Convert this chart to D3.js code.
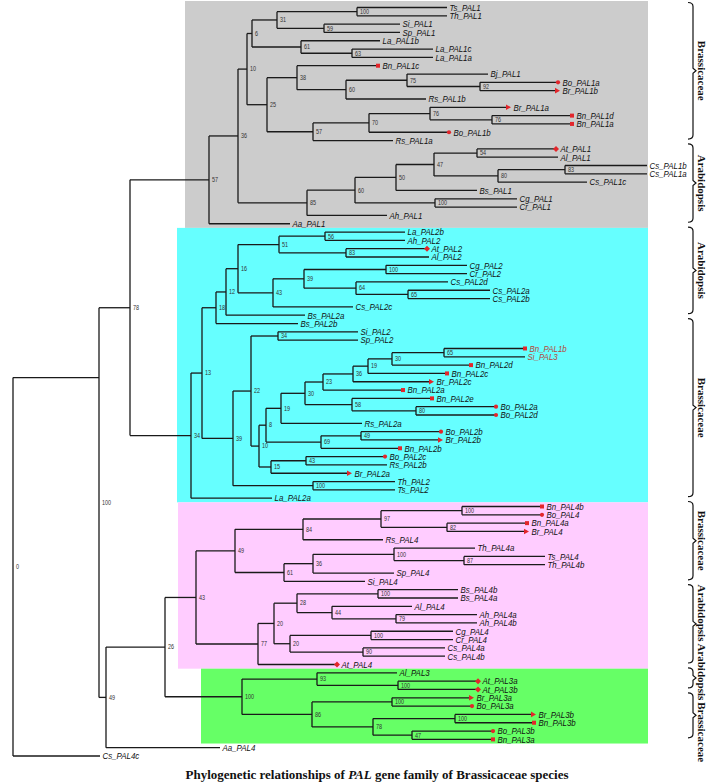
<!DOCTYPE html>
<html><head><meta charset="utf-8">
<script src="https://cdn.jsdelivr.net/npm/d3@7"></script>
<style>body{margin:0;background:#fff}</style>
</head><body>
<svg id="chart" width="708" height="784"></svg>
<script>
// Each row: [id, parent, distance from root, bootstrap support]. Leaves have "" support.
const backboneNodes = [
  ["root", "", 0, "0"],
  ["n100top", "root", 0.086, "100"],
  ["n78top", "n100top", 0.117, "78"],
  ["n49top", "n100top", 0.093, "49"],
  ["n26", "n49top", 0.152, "26"],
  ["Aa_PAL4", "n49top", 0.207, ""],
  ["Cs_PAL4c", "root", 0.087, ""]
];
// nodes whose stem meets the parent at the centre of their leaves (as drawn in the figure)
const centroidJoinNodes = ["n100top"];
const pal1Nodes = [
  ["n57a", "n78top", 0.196, "57"],
  ["n36a", "n57a", 0.225, "36"],
  ["n10a", "n36a", 0.234, "10"],
  ["n6", "n10a", 0.239, "6"],
  ["n31", "n6", 0.264, "31"],
  ["n100a", "n31", 0.344, "100"],
  ["Ts_PAL1", "n100a", 0.434, ""],
  ["Th_PAL1", "n100a", 0.434, ""],
  ["n59", "n31", 0.311, "59"],
  ["Si_PAL1", "n59", 0.387, ""],
  ["Sp_PAL1", "n59", 0.387, ""],
  ["n61a", "n6", 0.288, "61"],
  ["La_PAL1b", "n61a", 0.367, ""],
  ["n63", "n61a", 0.339, "63"],
  ["La_PAL1c", "n63", 0.420, ""],
  ["La_PAL1a", "n63", 0.420, ""],
  ["n25", "n10a", 0.254, "25"],
  ["n38", "n25", 0.284, "38"],
  ["Bn_PAL1c", "n38", 0.365, ""],
  ["n60a", "n38", 0.333, "60"],
  ["n75", "n60a", 0.394, "75"],
  ["Bj_PAL1", "n75", 0.475, ""],
  ["n92", "n75", 0.467, "92"],
  ["Bo_PAL1a", "n92", 0.545, ""],
  ["Br_PAL1b", "n92", 0.545, ""],
  ["Rs_PAL1b", "n60a", 0.413, ""],
  ["n57b", "n25", 0.300, "57"],
  ["n70", "n57b", 0.356, "70"],
  ["n76a", "n70", 0.417, "76"],
  ["Br_PAL1a", "n76a", 0.496, ""],
  ["n76b", "n76a", 0.479, "76"],
  ["Bn_PAL1d", "n76b", 0.559, ""],
  ["Bn_PAL1a", "n76b", 0.559, ""],
  ["Bo_PAL1b", "n70", 0.436, ""],
  ["Rs_PAL1a", "n57b", 0.380, ""],
  ["n85", "n36a", 0.294, "85"],
  ["n60b", "n85", 0.342, "60"],
  ["n50", "n60b", 0.383, "50"],
  ["n47a", "n50", 0.421, "47"],
  ["n54", "n47a", 0.464, "54"],
  ["At_PAL1", "n54", 0.543, ""],
  ["Al_PAL1", "n54", 0.545, ""],
  ["n80a", "n47a", 0.485, "80"],
  ["n83a", "n80a", 0.552, "83"],
  ["Cs_PAL1b", "n83a", 0.634, ""],
  ["Cs_PAL1a", "n83a", 0.634, ""],
  ["Cs_PAL1c", "n80a", 0.574, ""],
  ["Bs_PAL1", "n50", 0.464, ""],
  ["n100b", "n60b", 0.422, "100"],
  ["Cg_PAL1", "n100b", 0.504, ""],
  ["Cr_PAL1", "n100b", 0.504, ""],
  ["Ah_PAL1", "n85", 0.374, ""],
  ["Aa_PAL1", "n57a", 0.277, ""]
];
const pal2Nodes = [
  ["n34a", "n78top", 0.178, "34"],
  ["n13", "n34a", 0.189, "13"],
  ["n18", "n13", 0.203, "18"],
  ["n12", "n18", 0.213, "12"],
  ["n16", "n12", 0.225, "16"],
  ["n51", "n16", 0.266, "51"],
  ["n56", "n51", 0.312, "56"],
  ["La_PAL2b", "n56", 0.392, ""],
  ["Ah_PAL2", "n56", 0.392, ""],
  ["n83b", "n51", 0.333, "83"],
  ["At_PAL2", "n83b", 0.414, ""],
  ["Al_PAL2", "n83b", 0.416, ""],
  ["n43a", "n16", 0.260, "43"],
  ["n39a", "n43a", 0.291, "39"],
  ["n100c", "n39a", 0.373, "100"],
  ["Cg_PAL2", "n100c", 0.454, ""],
  ["Cr_PAL2", "n100c", 0.454, ""],
  ["n64", "n39a", 0.343, "64"],
  ["Cs_PAL2d", "n64", 0.435, ""],
  ["n65a", "n64", 0.395, "65"],
  ["Cs_PAL2a", "n65a", 0.477, ""],
  ["Cs_PAL2b", "n65a", 0.477, ""],
  ["Cs_PAL2c", "n43a", 0.340, ""],
  ["Bs_PAL2a", "n12", 0.292, ""],
  ["Bs_PAL2b", "n18", 0.285, ""],
  ["n39b", "n13", 0.220, "39"],
  ["n22", "n39b", 0.238, "22"],
  ["n34b", "n22", 0.265, "34"],
  ["Si_PAL2", "n34b", 0.345, ""],
  ["Sp_PAL2", "n34b", 0.345, ""],
  ["n10b", "n22", 0.246, "10"],
  ["n8", "n10b", 0.253, "8"],
  ["n19b", "n8", 0.268, "19"],
  ["n30b", "n19b", 0.292, "30"],
  ["n23", "n30b", 0.310, "23"],
  ["n36b", "n23", 0.340, "36"],
  ["n19a", "n36b", 0.355, "19"],
  ["n30a", "n19a", 0.379, "30"],
  ["n65b", "n30a", 0.431, "65"],
  ["Bn_PAL1b", "n65b", 0.512, ""],
  ["Si_PAL3", "n65b", 0.512, ""],
  ["Bn_PAL2d", "n30a", 0.458, ""],
  ["Bn_PAL2c", "n19a", 0.434, ""],
  ["Br_PAL2c", "n36b", 0.419, ""],
  ["Bn_PAL2a", "n23", 0.390, ""],
  ["n58", "n30b", 0.339, "58"],
  ["Bn_PAL2e", "n58", 0.419, ""],
  ["n80b", "n58", 0.403, "80"],
  ["Bo_PAL2a", "n80b", 0.483, ""],
  ["Bo_PAL2d", "n80b", 0.483, ""],
  ["Rs_PAL2a", "n19b", 0.349, ""],
  ["n69", "n8", 0.308, "69"],
  ["n49b", "n69", 0.348, "49"],
  ["Bo_PAL2b", "n49b", 0.428, ""],
  ["Br_PAL2b", "n49b", 0.428, ""],
  ["Bn_PAL2b", "n69", 0.387, ""],
  ["n15", "n10b", 0.258, "15"],
  ["n43b", "n15", 0.293, "43"],
  ["Bo_PAL2c", "n43b", 0.372, ""],
  ["Rs_PAL2b", "n43b", 0.374, ""],
  ["Br_PAL2a", "n15", 0.337, ""],
  ["n100d", "n39b", 0.300, "100"],
  ["Th_PAL2", "n100d", 0.382, ""],
  ["Ts_PAL2", "n100d", 0.382, ""],
  ["La_PAL2a", "n34a", 0.259, ""]
];
const pal4Nodes = [
  ["n43c", "n26", 0.183, "43"],
  ["n49c", "n43c", 0.222, "49"],
  ["n84", "n49c", 0.290, "84"],
  ["n97", "n84", 0.368, "97"],
  ["n100e", "n97", 0.449, "100"],
  ["Bn_PAL4b", "n100e", 0.529, ""],
  ["Bo_PAL4", "n100e", 0.529, ""],
  ["n82", "n97", 0.434, "82"],
  ["Bn_PAL4a", "n82", 0.514, ""],
  ["Br_PAL4", "n82", 0.514, ""],
  ["Rs_PAL4", "n84", 0.370, ""],
  ["n61b", "n49c", 0.271, "61"],
  ["n36c", "n61b", 0.300, "36"],
  ["n100f", "n36c", 0.381, "100"],
  ["Th_PAL4a", "n100f", 0.462, ""],
  ["n87", "n100f", 0.451, "87"],
  ["Ts_PAL4", "n87", 0.532, ""],
  ["Th_PAL4b", "n87", 0.532, ""],
  ["Sp_PAL4", "n36c", 0.381, ""],
  ["Si_PAL4", "n61b", 0.352, ""],
  ["n77", "n43c", 0.245, "77"],
  ["n20a", "n77", 0.261, "20"],
  ["n28", "n20a", 0.284, "28"],
  ["n100g", "n28", 0.365, "100"],
  ["Bs_PAL4b", "n100g", 0.445, ""],
  ["Bs_PAL4a", "n100g", 0.445, ""],
  ["n44", "n28", 0.319, "44"],
  ["Al_PAL4", "n44", 0.399, ""],
  ["n79", "n44", 0.383, "79"],
  ["Ah_PAL4a", "n79", 0.464, ""],
  ["Ah_PAL4b", "n79", 0.464, ""],
  ["n20b", "n20a", 0.277, "20"],
  ["n100h", "n20b", 0.358, "100"],
  ["Cg_PAL4", "n100h", 0.440, ""],
  ["Cr_PAL4", "n100h", 0.440, ""],
  ["n90", "n20b", 0.350, "90"],
  ["Cs_PAL4a", "n90", 0.432, ""],
  ["Cs_PAL4b", "n90", 0.432, ""],
  ["At_PAL4", "n77", 0.324, ""]
];
const pal3Nodes = [
  ["n100i", "n26", 0.229, "100"],
  ["n93", "n100i", 0.304, "93"],
  ["Al_PAL3", "n93", 0.384, ""],
  ["n100j", "n93", 0.385, "100"],
  ["At_PAL3a", "n100j", 0.465, ""],
  ["At_PAL3b", "n100j", 0.465, ""],
  ["n86", "n100i", 0.299, "86"],
  ["n100k", "n86", 0.379, "100"],
  ["Br_PAL3a", "n100k", 0.459, ""],
  ["Bo_PAL3a", "n100k", 0.459, ""],
  ["n78b", "n86", 0.360, "78"],
  ["n100l", "n78b", 0.442, "100"],
  ["Br_PAL3b", "n100l", 0.521, ""],
  ["Bn_PAL3b", "n100l", 0.521, ""],
  ["n47b", "n78b", 0.399, "47"],
  ["Bo_PAL3b", "n47b", 0.480, ""],
  ["Bn_PAL3a", "n47b", 0.480, ""]
];
// shaded clades: [colour, first leaf, last leaf, left edge distance]
const cladeBoxes = [
  ["#cccccc", "Ts_PAL1", "Aa_PAL1", 0.172],
  ["#66ffff", "La_PAL2b", "La_PAL2a", 0.164],
  ["#ffccff", "Bn_PAL4b", "At_PAL4", 0.165],
  ["#66ff66", "Al_PAL3", "Bn_PAL3a", 0.188]
];
// family brackets: [label, first leaf, last leaf]
const groupBraces = [
  ["Brassicaceae", "Ts_PAL1", "Rs_PAL1a"],
  ["Arabidopsis", "At_PAL1", "Aa_PAL1"],
  ["Arabidopsis", "La_PAL2b", "Bs_PAL2a"],
  ["Brassicaceae", "Bs_PAL2b", "La_PAL2a"],
  ["Brassicaceae", "Bn_PAL4b", "Si_PAL4"],
  ["Arabidopsis", "Bs_PAL4b", "At_PAL4"],
  ["Arabidopsis", "Al_PAL3", "At_PAL3b"],
  ["Brassicaceae", "Br_PAL3a", "Bn_PAL3a"]
];
const markedSpecies = {At: "diamond", Br: "arrow", Bn: "square", Bo: "circle"};
const highlightedLeaves = ["Bn_PAL1b", "Si_PAL3"];
const titleParts = ["Phylogenetic relationships of ", "PAL", " gene family of Brassicaceae species"];

const svg = d3.select("#chart");
const rows = [...backboneNodes, ...pal1Nodes, ...pal2Nodes, ...pal4Nodes, ...pal3Nodes]
  .map(r => ({id: r[0], parent: r[1] || null, dist: r[2], support: r[3]}));
const root = d3.stratify().id(d => d.id).parentId(d => d.parent)(rows);
const leaves = root.leaves();
const yScale = d3.scaleLinear().domain([0, leaves.length - 1]).range([7.5, 756]);
const xScale = d3.scaleLinear().domain([0, 0.634]).range([13, 647]);
const leafIndex = new Map(leaves.map((l, i) => [l.id, i]));
leaves.forEach((l, i) => { l.py = yScale(i); l.jy = l.py; });
root.eachAfter(n => {
  if (!n.children) return;
  const c = n.children;
  n.py = (c[0].jy + c[c.length - 1].jy) / 2;
  n.jy = centroidJoinNodes.includes(n.id) ? d3.mean(n.leaves(), l => l.py) : n.py;
});
root.each(n => n.px = xScale(n.data.dist));

// clade boxes
const rightEdge = xScale.range()[1] + 1;
const boundary = i => i <= 0 ? yScale(0) - 6.5 : (yScale(i - 1) + yScale(i)) / 2;
svg.append("g").selectAll("rect").data(cladeBoxes).join("rect")
  .attr("x", d => xScale(d[3]))
  .attr("y", d => boundary(leafIndex.get(d[1])))
  .attr("width", d => rightEdge - xScale(d[3]))
  .attr("height", d => boundary(leafIndex.get(d[2]) + 1) - boundary(leafIndex.get(d[1])))
  .attr("fill", d => d[0]);

// branches
const lineG = svg.append("g").attr("stroke", "#1a1a1a").attr("stroke-width", 1.3).attr("fill", "none");
root.descendants().filter(n => n.children).forEach(n => {
  const c = n.children;
  const ys = c.map(ch => ch.jy).concat([n.jy]);
  lineG.append("line").attr("x1", n.px).attr("x2", n.px)
    .attr("y1", d3.min(ys)).attr("y2", d3.max(ys));
  c.forEach(ch => lineG.append("line").attr("x1", n.px).attr("x2", ch.px)
    .attr("y1", ch.jy).attr("y2", ch.jy));
});

// support values
svg.append("g").selectAll("text").data(root.descendants().filter(n => n.children))
  .join("text")
  .attr("transform", n => `translate(${n.px + 3},${n.py + 2.3}) scale(0.8,1)`)
  .attr("font-family", "Liberation Sans, Arial, sans-serif")
  .attr("font-size", 6.8).attr("fill", "#333")
  .text(n => n.data.support);

// markers
const red = "#e3262b";
const mG = svg.append("g").attr("fill", red);
leaves.forEach(l => {
  const m = markedSpecies[l.id.slice(0, 2)];
  const x = l.px, y = l.py;
  if (m === "circle") mG.append("circle").attr("cx", x).attr("cy", y).attr("r", 2.1);
  else if (m === "square") mG.append("rect").attr("x", x - 2).attr("y", y - 2).attr("width", 4).attr("height", 4);
  else if (m === "diamond") mG.append("path").attr("d", `M${x - 3},${y}L${x},${y - 3}L${x + 3},${y}L${x},${y + 3}Z`);
  else if (m === "arrow") mG.append("path").attr("d", `M${x - 3},${y - 2.8}L${x + 2},${y}L${x - 3},${y + 2.8}Z`);
});

// leaf labels
svg.append("g").selectAll("text").data(leaves).join("text")
  .attr("transform", l => `translate(${l.px + (markedSpecies[l.id.slice(0, 2)] ? 4.5 : 2.5)},${l.py + 3.3}) scale(0.86,1)`)
  .attr("font-family", "Liberation Sans, Arial, sans-serif")
  .attr("font-style", "italic").attr("font-size", 9.2)
  .attr("fill", l => highlightedLeaves.includes(l.id) ? "#b5473a" : "#111")
  .text(l => l.id);

// braces with de-overlapped labels
const bx0 = 688, bx1 = 693, bx2 = 696;
const bG = svg.append("g");
const braceData = groupBraces.map(b => {
  const top = yScale(leafIndex.get(b[1])) - 5, bot = yScale(leafIndex.get(b[2])) - 1.5;
  const t = bG.append("text").attr("text-anchor", "middle")
    .attr("font-family", "Liberation Serif, Times New Roman, serif")
    .attr("font-weight", "bold").attr("font-size", 11).attr("fill", "#111").text(b[0]);
  return {label: b[0], top, bot, mid: (top + bot) / 2, len: t.node().getComputedTextLength(), t};
});
for (let k = 0; k < 30; k++) {
  for (let i = 1; i < braceData.length; i++) {
    const a = braceData[i - 1], b = braceData[i];
    const overlap = (a.mid + a.len / 2) - (b.mid - b.len / 2) + 2;
    if (overlap > 0) { a.mid -= overlap / 2; b.mid += overlap / 2; }
  }
}
braceData.forEach(b => {
  const m = (b.top + b.bot) / 2;
  const p = d3.path();
  p.moveTo(bx0, b.top); p.quadraticCurveTo(bx1, b.top, bx1, b.top + 4);
  p.lineTo(bx1, m - 2.5); p.lineTo(bx2, m); p.lineTo(bx1, m + 2.5);
  p.lineTo(bx1, b.bot - 4); p.quadraticCurveTo(bx1, b.bot, bx0, b.bot);
  bG.append("path").attr("d", p.toString()).attr("fill", "none").attr("stroke", "#111").attr("stroke-width", 1.2);
  b.t.attr("transform", `translate(698,${b.mid}) rotate(90)`);
});

// title
const title = svg.append("text").attr("x", 377).attr("y", 779).attr("text-anchor", "middle")
  .attr("font-family", "Liberation Serif, Times New Roman, serif").attr("font-weight", "bold")
  .attr("font-size", 13).attr("fill", "#111");
titleParts.forEach((t, i) => title.append("tspan").attr("font-style", i === 1 ? "italic" : "normal").text(t));
</script>
</body></html>
